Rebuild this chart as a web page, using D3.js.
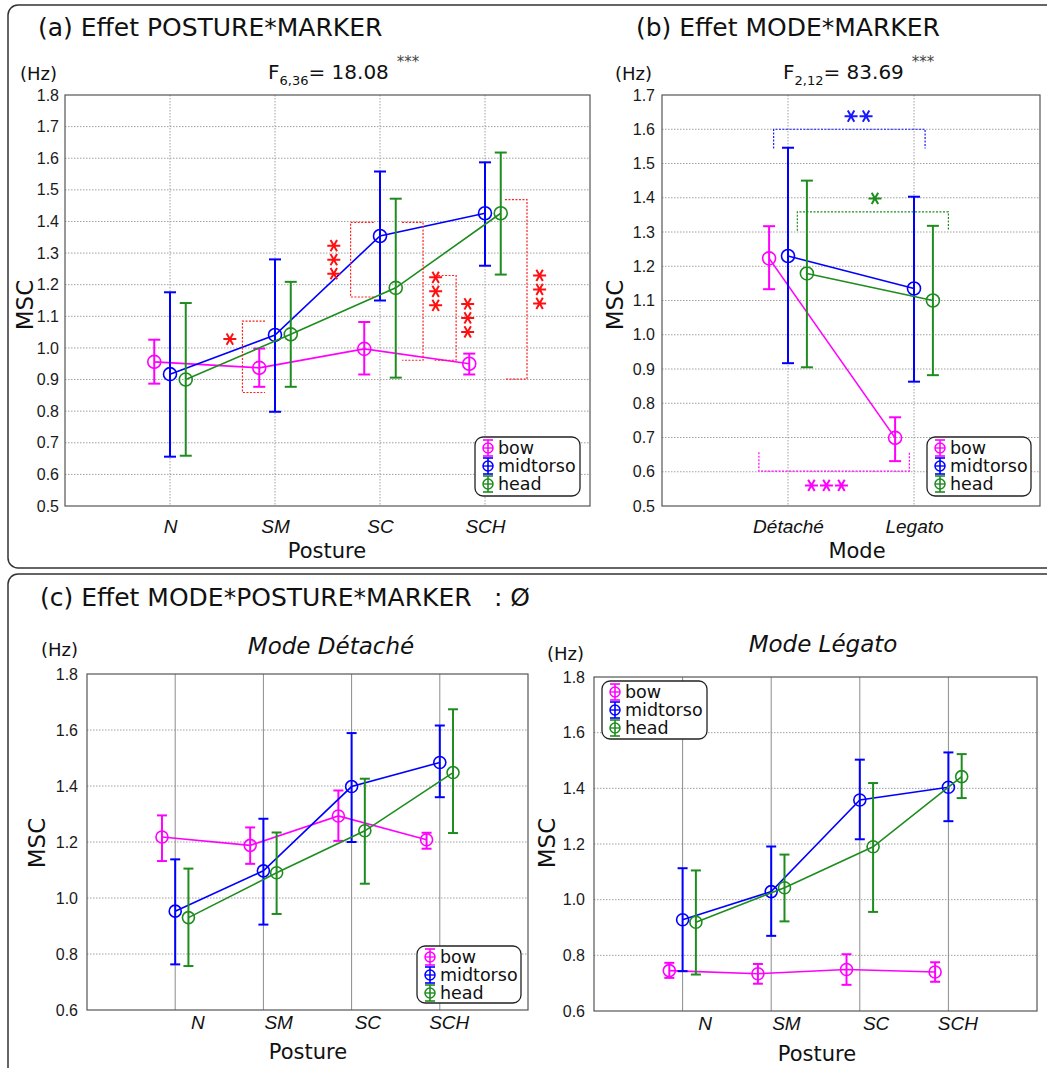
<!DOCTYPE html>
<html><head><meta charset="utf-8">
<script src="https://cdn.jsdelivr.net/npm/d3@7"></script>
<style>body{margin:0;background:#fff}svg{display:block}</style>
</head><body>
<svg id="c" width="1047" height="1068"></svg>
<script>
// ---------------- DATA ----------------
const markers = ["bow", "midtorso", "head"];
const postures = ["N", "SM", "SC", "SCH"];
const modes = ["Détaché", "Legato"];
const yTicksA = [0.5, 0.6, 0.7, 0.8, 0.9, 1.0, 1.1, 1.2, 1.3, 1.4, 1.5, 1.6, 1.7, 1.8];
const yTicksB = [0.5, 0.6, 0.7, 0.8, 0.9, 1.0, 1.1, 1.2, 1.3, 1.4, 1.5, 1.6, 1.7];
const yTicksC = [0.6, 0.8, 1.0, 1.2, 1.4, 1.6, 1.8];

// (a) Posture * Marker
const postureBowMean = [0.956, 0.937, 0.997, 0.950];
const postureBowLow  = [0.887, 0.877, 0.916, 0.916];
const postureBowHigh = [1.026, 0.998, 1.082, 0.982];
const postureMidMean = [0.917, 1.041, 1.354, 1.426];
const postureMidLow  = [0.656, 0.798, 1.150, 1.260];
const postureMidHigh = [1.176, 1.280, 1.558, 1.587];
const postureHeadMean = [0.900, 1.043, 1.190, 1.426];
const postureHeadLow  = [0.659, 0.877, 0.906, 1.232];
const postureHeadHigh = [1.142, 1.209, 1.472, 1.618];

// (b) Mode * Marker
const modeBowMean = [1.223, 0.699];
const modeBowLow  = [1.133, 0.631];
const modeBowHigh = [1.317, 0.759];
const modeMidMean = [1.230, 1.135];
const modeMidLow  = [0.917, 0.863];
const modeMidHigh = [1.546, 1.403];
const modeHeadMean = [1.179, 1.100];
const modeHeadLow  = [0.905, 0.882];
const modeHeadHigh = [1.450, 1.318];

// (c) Mode Détaché
const detBowMean = [1.218, 1.188, 1.293, 1.208];
const detBowLow  = [1.132, 1.122, 1.204, 1.176];
const detBowHigh = [1.295, 1.252, 1.384, 1.233];
const detMidMean = [0.953, 1.097, 1.398, 1.484];
const detMidLow  = [0.763, 0.905, 1.200, 1.360];
const detMidHigh = [1.138, 1.283, 1.589, 1.616];
const detHeadMean = [0.930, 1.090, 1.240, 1.448];
const detHeadLow  = [0.757, 0.943, 1.051, 1.232];
const detHeadHigh = [1.105, 1.234, 1.426, 1.674];

// (c) Mode Légato
const legBowMean = [0.745, 0.734, 0.749, 0.740];
const legBowLow  = [0.719, 0.698, 0.694, 0.705];
const legBowHigh = [0.773, 0.769, 0.804, 0.775];
const legMidMean = [0.928, 1.029, 1.358, 1.404];
const legMidLow  = [0.743, 0.870, 1.217, 1.282];
const legMidHigh = [1.113, 1.191, 1.503, 1.529];
const legHeadMean = [0.919, 1.043, 1.190, 1.442];
const legHeadLow  = [0.731, 0.922, 0.956, 1.365];
const legHeadHigh = [1.105, 1.162, 1.419, 1.523];

// significance brackets (a): value levels (top, bottom) and stars count
const sigA_top    = [1.085, 1.397, 1.397, 1.229, 1.469];
const sigA_bottom = [0.859, 1.161, 0.961, 0.961, 0.901];
const sigA_stars  = [1, 3, 3, 3, 3];
// significance brackets (b): line level, end level, stars count
const sigB_level = [1.600, 1.359, 0.602];
const sigB_end   = [1.544, 1.304, 0.657];
const sigB_stars = [2, 1, 3];

// ---------------- DRAWING ----------------
const colors = ["#ff00ff", "#0000ff", "#1f8c1f"];
const offsets = [-0.15, 0, 0.15];
const SANS = "'DejaVu Sans', Verdana, sans-serif";
const ARIAL = "'Liberation Sans', Arial, sans-serif";
const svg = d3.select("#c");

// panel boxes
svg.append("rect").attr("x", 8).attr("y", 5).attr("width", 1080).attr("height", 563)
  .attr("rx", 10).attr("fill", "none").attr("stroke", "#333").attr("stroke-width", 1.5);
svg.append("rect").attr("x", 8).attr("y", 574).attr("width", 1080).attr("height", 560)
  .attr("rx", 10).attr("fill", "none").attr("stroke", "#333").attr("stroke-width", 1.5);

function starPath(cx, cy, r) {
  let p = "";
  [0, 60, 120].forEach(a => {
    const t = a * Math.PI / 180, dx = r * Math.cos(t), dy = r * Math.sin(t);
    p += `M${cx - dx},${cy - dy}L${cx + dx},${cy + dy}`;
  });
  return p;
}

function drawPanel(o) {
  const n = o.cats.length;
  const x = d3.scaleLinear().domain([0, n + 1]).range([o.x0, o.x1]);
  const y = d3.scaleLinear().domain([o.yticks[0], o.yticks[o.yticks.length - 1]]).range([o.y1, o.y0]);
  const g = svg.append("g");
  // grid
  g.append("g").selectAll("line").data(o.yticks.slice(1, -1)).join("line")
    .attr("x1", o.x0).attr("x2", o.x1).attr("y1", d => y(d)).attr("y2", d => y(d))
    .attr("stroke", "#a0a0a0").attr("stroke-width", 1).attr("stroke-dasharray", "1.5,1.5");
  g.append("g").selectAll("line").data(d3.range(1, n + 1)).join("line")
    .attr("x1", d => x(d)).attr("x2", d => x(d)).attr("y1", o.y0).attr("y2", o.y1)
    .attr("stroke", o.solidV ? "#8c8c8c" : "#a0a0a0").attr("stroke-width", 1)
    .attr("stroke-dasharray", o.solidV ? null : "1.5,1.5");
  g.append("rect").attr("x", o.x0).attr("y", o.y0).attr("width", o.x1 - o.x0).attr("height", o.y1 - o.y0)
    .attr("fill", "none").attr("stroke", "#555").attr("stroke-width", 1.2);
  // axes
  const ya = g.append("g").attr("transform", `translate(${o.x0},0)`)
    .call(d3.axisLeft(y).tickValues(o.yticks).tickFormat(d3.format(".1f")).tickSize(0).tickPadding(o.ypad));
  ya.select(".domain").remove();
  ya.selectAll("text").attr("font-family", ARIAL).attr("font-size", 16).attr("fill", "#1a1a1a");
  const xa = g.append("g").attr("transform", `translate(0,${o.y1})`)
    .call(d3.axisBottom(x).tickValues(d3.range(1, n + 1)).tickFormat(d => o.cats[d - 1]).tickSize(0).tickPadding(o.xpad));
  xa.select(".domain").remove();
  xa.selectAll("text").attr("font-family", ARIAL).attr("font-style", "italic").attr("font-size", 19)
    .attr("fill", "#111");
  if (o.xEnd) xa.selectAll("text").attr("text-anchor", "end").attr("dx", o.xEnd);
  // series
  o.series.forEach((s, k) => {
    const pts = s.mean.map((m, i) => ({ x: x(i + 1 + offsets[k]), m: y(m), lo: y(s.low[i]), hi: y(s.high[i]) }));
    const sg = g.append("g");
    sg.append("path").attr("d", d3.line().x(d => d.x).y(d => d.m)(pts))
      .attr("fill", "none").attr("stroke", colors[k]).attr("stroke-width", 1.6);
    const eb = sg.selectAll("g.eb").data(pts).join("g");
    eb.append("line").attr("x1", d => d.x).attr("x2", d => d.x).attr("y1", d => d.lo).attr("y2", d => d.hi)
      .attr("stroke", colors[k]).attr("stroke-width", 2);
    eb.append("line").attr("x1", d => d.x - o.cap).attr("x2", d => d.x + o.cap).attr("y1", d => d.lo).attr("y2", d => d.lo)
      .attr("stroke", colors[k]).attr("stroke-width", 2);
    eb.append("line").attr("x1", d => d.x - o.cap).attr("x2", d => d.x + o.cap).attr("y1", d => d.hi).attr("y2", d => d.hi)
      .attr("stroke", colors[k]).attr("stroke-width", 2);
    eb.append("circle").attr("cx", d => d.x).attr("cy", d => d.m).attr("r", o.r)
      .attr("fill", "none").attr("stroke", colors[k]).attr("stroke-width", 1.6);
  });
  // legend
  const L = o.legend;
  const lg = g.append("g");
  lg.append("rect").attr("x", L.x).attr("y", L.y).attr("width", L.w).attr("height", L.h).attr("rx", 8)
    .attr("fill", "#fff").attr("stroke", "#222").attr("stroke-width", 1.3);
  markers.forEach((m, k) => {
    const cy = L.y + 11 + k * 18, sx = L.x + 13;
    lg.append("line").attr("x1", sx).attr("x2", sx).attr("y1", cy - 8).attr("y2", cy + 8).attr("stroke", colors[k]).attr("stroke-width", 1.6);
    lg.append("line").attr("x1", sx - 5).attr("x2", sx + 5).attr("y1", cy - 8).attr("y2", cy - 8).attr("stroke", colors[k]).attr("stroke-width", 1.6);
    lg.append("line").attr("x1", sx - 5).attr("x2", sx + 5).attr("y1", cy + 8).attr("y2", cy + 8).attr("stroke", colors[k]).attr("stroke-width", 1.6);
    lg.append("line").attr("x1", sx - 5).attr("x2", sx + 5).attr("y1", cy).attr("y2", cy).attr("stroke", colors[k]).attr("stroke-width", 1.4);
    lg.append("circle").attr("cx", sx).attr("cy", cy).attr("r", 5).attr("fill", "none").attr("stroke", colors[k]).attr("stroke-width", 1.5);
    lg.append("text").attr("x", sx + 10).attr("y", cy + 6).text(m)
      .attr("font-family", SANS).attr("font-size", 17.5).attr("fill", "#111");
  });
  // labels
  g.append("text").attr("x", o.hz[0]).attr("y", o.hz[1]).text("(Hz)")
    .attr("font-family", SANS).attr("font-size", 18).attr("fill", "#111");
  g.append("text").attr("transform", `translate(${o.msc[0] + 8},${o.msc[1]}) rotate(-90)`)
    .attr("text-anchor", "middle").text("MSC").attr("font-family", SANS).attr("font-size", 23).attr("fill", "#111");
  g.append("text").attr("x", o.xlab[0]).attr("y", o.xlab[1]).attr("text-anchor", "middle").text(o.xlabel)
    .attr("font-family", SANS).attr("font-size", 21).attr("fill", "#111");
  return { x, y, g };
}

function seriesOf(a) { return a.map(t => ({ mean: t[0], low: t[1], high: t[2] })); }

// ---- panel (a)
const A = drawPanel({
  cats: postures, x0: 65, x1: 590, y0: 95, y1: 506, yticks: yTicksA, ypad: 6, xpad: 14, cap: 6, r: 6.5,
  series: seriesOf([[postureBowMean, postureBowLow, postureBowHigh], [postureMidMean, postureMidLow, postureMidHigh], [postureHeadMean, postureHeadLow, postureHeadHigh]]),
  legend: { x: 475, y: 437, w: 105, h: 59 }, hz: [20, 80], msc: [25, 305], xlab: [327, 558], xlabel: "Posture"
});
// brackets (a): [vertical x, tick end x, star x] in category units
const bxA = [[1.69, 1.905, 1.57], [2.72, 2.94, 2.56], [3.41, 3.21, 3.53], [3.725, 3.52, 3.835], [4.40, 4.19, 4.52]];
sigA_top.forEach((t, i) => {
  const vx = A.x(bxA[i][0]), tx = A.x(bxA[i][1]), yt = A.y(t), yb = A.y(sigA_bottom[i]);
  A.g.append("path").attr("d", `M${tx},${yt}L${vx},${yt}L${vx},${yb}L${tx},${yb}`)
    .attr("fill", "none").attr("stroke", "#ff2020").attr("stroke-width", 1.2).attr("stroke-dasharray", "2,1.5");
  const cy = A.y((t + sigA_bottom[i]) / 2), sx = A.x(bxA[i][2]);
  const nS = sigA_stars[i];
  for (let j = 0; j < nS; j++) {
    const yy = (i === 0 ? A.y(1.028) : cy + (j - (nS - 1) / 2) * 14);
    A.g.append("path").attr("d", starPath(sx, yy, 6.5)).attr("stroke", "#ff1010").attr("stroke-width", 2).attr("fill", "none");
  }
});
// F annotation (a)
{
  const t = svg.append("text").attr("x", 268).attr("y", 79).attr("font-family", SANS).attr("font-size", 20).attr("fill", "#111");
  t.append("tspan").text("F");
  t.append("tspan").attr("dy", 6).attr("font-size", 13).text("6,36");
  t.append("tspan").attr("dy", -6).text("= 18.08");
  t.append("tspan").attr("dx", 8).attr("dy", -12).attr("font-size", 15).attr("fill", "#444").text("***");
}
svg.append("text").attr("x", 38).attr("y", 36).text("(a) Effet POSTURE*MARKER")
  .attr("font-family", SANS).attr("font-size", 25).attr("fill", "#111");

// ---- panel (b)
const B = drawPanel({
  cats: modes, x0: 662, x1: 1040, y0: 95, y1: 506, yticks: yTicksB, ypad: 7, xpad: 14, cap: 6, r: 6.5,
  series: seriesOf([[modeBowMean, modeBowLow, modeBowHigh], [modeMidMean, modeMidLow, modeMidHigh], [modeHeadMean, modeHeadLow, modeHeadHigh]]),
  legend: { x: 927, y: 437, w: 104, h: 59 }, hz: [615, 80], msc: [615, 305], xlab: [857, 558], xlabel: "Mode"
});
const bxB = [[0.886, 2.088, 1.56, 1.638], [1.074, 2.273, 1.69, 1.398], [0.769, 1.963, 1.305, 0.560]];
const sigBColors = ["#1a1aff", "#1f8c1f", "#ff00ff"];
sigB_level.forEach((lv, i) => {
  const x1 = B.x(bxB[i][0]), x2 = B.x(bxB[i][1]), yl = B.y(lv), ye = B.y(sigB_end[i]);
  B.g.append("path").attr("d", `M${x1},${ye}L${x1},${yl}L${x2},${yl}L${x2},${ye}`)
    .attr("fill", "none").attr("stroke", sigBColors[i]).attr("stroke-width", 1.2).attr("stroke-dasharray", "2,1.5");
  const nS = sigB_stars[i], cx = B.x(bxB[i][2]), cy = B.y(bxB[i][3]);
  for (let j = 0; j < nS; j++) {
    B.g.append("path").attr("d", starPath(cx + (j - (nS - 1) / 2) * 15, cy, 6.5))
      .attr("stroke", sigBColors[i]).attr("stroke-width", 2).attr("fill", "none");
  }
});
{
  const t = svg.append("text").attr("x", 783).attr("y", 79).attr("font-family", SANS).attr("font-size", 20).attr("fill", "#111");
  t.append("tspan").text("F");
  t.append("tspan").attr("dy", 6).attr("font-size", 13).text("2,12");
  t.append("tspan").attr("dy", -6).text("= 83.69");
  t.append("tspan").attr("dx", 8).attr("dy", -12).attr("font-size", 15).attr("fill", "#444").text("***");
}
svg.append("text").attr("x", 636).attr("y", 36).text("(b) Effet MODE*MARKER")
  .attr("font-family", SANS).attr("font-size", 25).attr("fill", "#111");

// ---- panel (c)
svg.append("text").attr("x", 40).attr("y", 606).text("(c) Effet MODE*POSTURE*MARKER")
  .attr("font-family", SANS).attr("font-size", 25).attr("fill", "#111");
svg.append("text").attr("x", 494).attr("y", 606).text(": Ø")
  .attr("font-family", SANS).attr("font-size", 25).attr("fill", "#111");

drawPanel({
  cats: postures, x0: 87, x1: 528, y0: 674, y1: 1010, yticks: yTicksC, ypad: 9, xpad: 6, cap: 5, r: 6, solidV: true, xEnd: 29,
  series: seriesOf([[detBowMean, detBowLow, detBowHigh], [detMidMean, detMidLow, detMidHigh], [detHeadMean, detHeadLow, detHeadHigh]]),
  legend: { x: 417, y: 946, w: 104, h: 57 }, hz: [41, 656], msc: [37, 843], xlab: [308, 1059], xlabel: "Posture"
});
svg.append("text").attr("x", 331).attr("y", 654).attr("text-anchor", "middle").text("Mode Détaché")
  .attr("font-family", SANS).attr("font-style", "italic").attr("font-size", 23).attr("fill", "#111");

drawPanel({
  cats: postures, x0: 594, x1: 1037, y0: 677, y1: 1011, yticks: yTicksC, ypad: 9, xpad: 6, cap: 5, r: 6, solidV: true, xEnd: 29,
  series: seriesOf([[legBowMean, legBowLow, legBowHigh], [legMidMean, legMidLow, legMidHigh], [legHeadMean, legHeadLow, legHeadHigh]]),
  legend: { x: 602, y: 681, w: 105, h: 58 }, hz: [547, 660], msc: [547, 843], xlab: [817, 1061], xlabel: "Posture"
});
svg.append("text").attr("x", 823).attr("y", 652).attr("text-anchor", "middle").text("Mode Légato")
  .attr("font-family", SANS).attr("font-style", "italic").attr("font-size", 23).attr("fill", "#111");
</script>
</body></html>
